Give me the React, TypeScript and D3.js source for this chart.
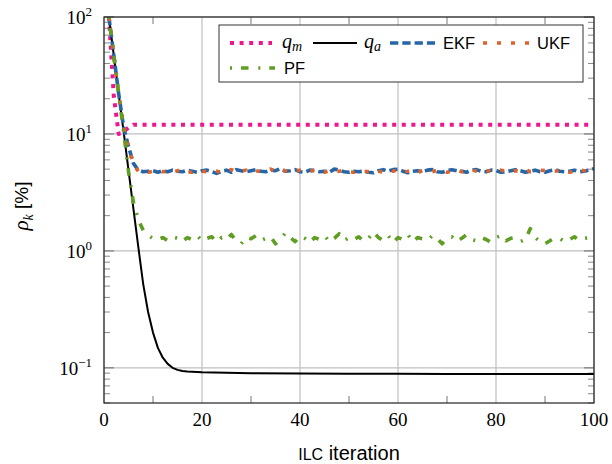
import React from "react";
import * as d3 from "d3";

const width = 612;
const height = 464;
const margin = { top: 17, right: 18, bottom: 61, left: 104 };

// iteration 1..100
const ekf = [
  100, 47, 22, 11.5, 7.8, 5.6, 4.9, 4.75, 4.8, 4.85,
  4.7, 4.85, 4.75, 4.9, 4.8, 4.75, 4.9, 4.8, 4.7, 4.85,
  4.9, 4.75, 4.6, 4.8, 4.9, 4.7, 4.95, 4.85, 4.75, 4.85,
  4.95, 4.8, 4.75, 4.9, 4.85, 5.05, 4.8, 4.85, 4.95, 4.75,
  4.7, 4.9, 4.85, 4.75, 4.8, 4.7, 5.0, 4.9, 4.75, 4.7,
  4.8, 4.75, 4.8, 4.7, 4.65, 4.85, 4.95, 4.8, 4.95, 5.0,
  4.8, 4.65, 4.8, 4.85, 4.75, 4.9, 4.95, 4.75, 4.7, 4.85,
  4.95, 4.85, 4.8, 4.7, 4.9, 4.95, 4.8, 4.75, 4.9, 4.85,
  4.7, 4.75, 4.85, 4.95, 4.85, 4.7, 4.8, 4.9, 4.75, 4.7,
  4.85, 4.95, 4.8, 4.75, 4.8, 4.9, 4.75, 4.8, 4.9, 5.05,
];

const ukf = [
  100, 47, 22, 11.5, 7.6, 5.5, 4.8, 4.85, 4.7, 4.8,
  4.9, 4.75, 4.8, 4.7, 4.85, 4.95, 4.75, 4.7, 4.85, 4.8,
  4.75, 4.9, 4.8, 4.7, 4.85, 4.95, 4.75, 4.8, 4.9, 4.7,
  4.85, 4.75, 4.9, 5.0, 4.8, 4.75, 4.85, 4.7, 4.8, 4.9,
  4.85, 4.75, 4.95, 4.8, 4.7, 4.85, 4.75, 4.8, 4.9, 4.75,
  4.7, 4.85, 4.8, 4.75, 4.9, 4.8, 4.7, 4.85, 4.8, 4.95,
  4.75, 4.8, 4.9, 4.7, 4.85, 4.8, 4.75, 4.9, 4.85, 4.7,
  4.8, 4.9, 4.75, 4.85, 4.95, 4.8, 4.7, 4.85, 4.8, 4.75,
  4.9, 4.8, 4.7, 4.85, 4.8, 4.95, 4.75, 4.8, 4.9, 4.85,
  4.75, 4.8, 4.9, 4.85, 4.7, 4.8, 4.95, 4.85, 4.75, 4.9,
];

const pf = [
  100, 47, 22, 10.5, 4.8, 2.6, 1.85, 1.5, 1.35, 1.28,
  1.25, 1.3, 1.22, 1.32, 1.28, 1.2, 1.3, 1.25, 1.35, 1.22,
  1.28, 1.32, 1.18, 1.3, 1.25, 1.38, 1.2, 1.15, 1.3, 1.27,
  1.35, 1.22, 1.28, 1.32, 1.15, 1.25, 1.42, 1.3, 1.2, 1.35,
  1.28, 1.18, 1.3, 1.25, 1.35, 1.2, 1.28, 1.4, 1.22, 1.3,
  1.25, 1.32, 1.2, 1.28, 1.45, 1.3, 1.22, 1.35, 1.18, 1.3,
  1.25, 1.38, 1.2, 1.3, 1.27, 1.22, 1.35, 1.28, 1.15, 1.3,
  1.32, 1.2, 1.28, 1.38, 1.25, 1.22, 1.3, 1.25, 1.18, 1.3,
  1.35, 1.22, 1.28, 1.3, 1.2, 1.25, 1.55, 1.3, 1.2, 1.15,
  1.22, 1.3, 1.28, 1.2, 1.25, 1.32, 1.22, 1.28, 1.3, 1.38,
];

// [iteration, value]
const qm = [[1, 100], [2, 21], [3, 10], [4, 10.5], [5, 11.3], [6, 12], [100, 12]];
const qa = [
  [1, 100], [2, 47], [3, 22], [4, 10.5], [5, 4.9], [6, 2.3], [7, 1.08], [8, 0.52],
  [9, 0.3], [10, 0.2], [11, 0.148], [12, 0.122], [13, 0.108], [14, 0.1], [15, 0.096],
  [16, 0.094], [17, 0.093], [18, 0.0925], [19, 0.092], [20, 0.0915], [25, 0.0905],
  [30, 0.09], [40, 0.0895], [50, 0.089], [60, 0.0888], [70, 0.0887], [80, 0.0886],
  [90, 0.0885], [100, 0.0885],
];

const xTicks = [0, 20, 40, 60, 80, 100];
const xMinor = [10, 30, 50, 70, 90];
const yExponents = [-1, 0, 1, 2];

const serif = "'Liberation Serif', serif";
const sans = "'Liberation Sans', sans-serif";

const colors = {
  qm: "#ee1690",
  qa: "#000000",
  ekf: "#2566a6",
  ukf: "#e0622a",
  pf: "#5f9e22",
};

const styles = {
  qm: { stroke: colors.qm, width: 4, dash: "4,5.6" },
  qa: { stroke: colors.qa, width: 2, dash: "none" },
  ekf: { stroke: colors.ekf, width: 3.6, dash: "8.3,4" },
  ukf: { stroke: colors.ukf, width: 3.6, dash: "4,10" },
  pf: { stroke: colors.pf, width: 3.6, dash: "2,9,7.5,9.8" },
};

export default function App() {
  const x = d3
    .scaleLinear()
    .domain([0, 100])
    .range([margin.left, width - margin.right]);
  const y = d3
    .scaleLog()
    .domain([0.05, 100])
    .range([height - margin.bottom, margin.top]);

  const line = d3
    .line<number[]>()
    .x(d => x(d[0]))
    .y(d => y(d[1]));

  const toPairs = (arr: number[]) => arr.map((v, i) => [i + 1, v]);

  const yMinor: number[] = [];
  for (let e = -2; e <= 1; e++) {
    for (let m = 2; m <= 9; m++) {
      const v = m * Math.pow(10, e);
      if (v >= 0.05 && v <= 100) yMinor.push(v);
    }
  }

  const x0 = margin.left;
  const x1 = width - margin.right;
  const y0 = height - margin.bottom;
  const y1 = margin.top;

  const series = [
    { key: "qm", d: qm },
    { key: "qa", d: qa },
    { key: "ekf", d: toPairs(ekf) },
    { key: "ukf", d: toPairs(ukf) },
    { key: "pf", d: toPairs(pf) },
  ];

  const legendX = 219;
  const legendY = 25;
  const row1 = 43;
  const row2 = 68;
  const legendLine = (key: string, lx: number, ly: number, len: number) => {
    const s = styles[key];
    return (
      <line
        x1={lx}
        x2={lx + len}
        y1={ly}
        y2={ly}
        stroke={s.stroke}
        strokeWidth={s.width}
        strokeDasharray={s.dash}
      />
    );
  };

  return (
    <svg
      width={width}
      height={height}
      style={{ position: "absolute", left: 0, top: 0, background: "#fff" }}
    >
      <defs>
        <clipPath id="plotClip">
          <rect x={x0} y={y1} width={x1 - x0} height={y0 - y1} />
        </clipPath>
      </defs>

      {/* grid */}
      {xTicks.map(t => (
        <line key={"gx" + t} x1={x(t)} x2={x(t)} y1={y1} y2={y0} stroke="#bfbfbf" strokeWidth={1.2} />
      ))}
      {yExponents.map(e => (
        <line
          key={"gy" + e}
          x1={x0}
          x2={x1}
          y1={y(Math.pow(10, e))}
          y2={y(Math.pow(10, e))}
          stroke="#bfbfbf"
          strokeWidth={1.2}
        />
      ))}

      {/* minor ticks */}
      {xMinor.map(t => (
        <g key={"mx" + t}>
          <line x1={x(t)} x2={x(t)} y1={y0} y2={y0 - 7} stroke="#777" strokeWidth={1} />
          <line x1={x(t)} x2={x(t)} y1={y1} y2={y1 + 7} stroke="#777" strokeWidth={1} />
        </g>
      ))}
      {yMinor.map(v => (
        <g key={"my" + v}>
          <line x1={x0} x2={x0 + 6} y1={y(v)} y2={y(v)} stroke="#888" strokeWidth={1} />
          <line x1={x1} x2={x1 - 6} y1={y(v)} y2={y(v)} stroke="#888" strokeWidth={1} />
        </g>
      ))}
      {yExponents.map(e => (
        <g key={"My" + e}>
          <line x1={x0} x2={x0 + 10} y1={y(Math.pow(10, e))} y2={y(Math.pow(10, e))} stroke="#888" strokeWidth={1.4} />
          <line x1={x1} x2={x1 - 10} y1={y(Math.pow(10, e))} y2={y(Math.pow(10, e))} stroke="#888" strokeWidth={1.4} />
        </g>
      ))}

      {/* series */}
      <g clipPath="url(#plotClip)">
        {series.map(s => {
          const st = styles[s.key];
          return (
            <path
              key={s.key}
              d={line(s.d as number[][]) || ""}
              fill="none"
              stroke={st.stroke}
              strokeWidth={st.width}
              strokeDasharray={st.dash}
              strokeLinejoin="round"
            />
          );
        })}
      </g>

      {/* frame */}
      <rect x={x0} y={y1} width={x1 - x0} height={y0 - y1} fill="none" stroke="#222" strokeWidth={1.2} />

      {/* x tick labels */}
      {xTicks.map(t => (
        <text key={"tx" + t} x={x(t)} y={y0 + 23} textAnchor="middle" fontFamily={serif} fontSize={19}>
          {t}
        </text>
      ))}

      {/* y tick labels */}
      {yExponents.map(e => (
        <text
          key={"ty" + e}
          x={x0 - 12}
          y={y(Math.pow(10, e)) + 7}
          textAnchor="end"
          fontFamily={serif}
          fontSize={19}
        >
          10
          <tspan dy={-8} fontSize={13}>
            {e < 0 ? "\u2212" + Math.abs(e) : String(e)}
          </tspan>
        </text>
      ))}

      {/* axis labels */}
      <text x={349} y={460} textAnchor="middle" fontFamily={sans} fontSize={20}>
        <tspan fontSize={16}>ILC</tspan> iteration
      </text>
      <text transform="translate(28,206) rotate(-90)" textAnchor="middle" fontSize={21}>
        <tspan fontFamily={serif} fontStyle="italic">ρ</tspan>
        <tspan fontFamily={serif} fontStyle="italic" fontSize={14} dy={5}>k</tspan>
        <tspan fontFamily={sans} fontSize={19} dy={-5}> [%]</tspan>
      </text>

      {/* legend */}
      <rect x={legendX} y={legendY} width={364} height={57} fill="#fff" stroke="#333" strokeWidth={1} />
      {legendLine("qm", 230, row1, 42)}
      <text x={282} y={row1 + 5} fontFamily={serif} fontStyle="italic" fontSize={20}>
        q<tspan fontSize={14} dy={3}>m</tspan>
      </text>
      {legendLine("qa", 313, row1, 44)}
      <text x={364} y={row1 + 5} fontFamily={serif} fontStyle="italic" fontSize={20}>
        q<tspan fontSize={14} dy={3}>a</tspan>
      </text>
      {legendLine("ekf", 390, row1, 45)}
      <text x={443} y={row1 + 6} fontFamily={sans} fontSize={16.5}>EKF</text>
      {legendLine("ukf", 483, row1, 47)}
      <text x={537} y={row1 + 6} fontFamily={sans} fontSize={16.5}>UKF</text>
      {legendLine("pf", 230, row2, 45)}
      <text x={284} y={row2 + 6} fontFamily={sans} fontSize={16.5}>PF</text>
    </svg>
  );
}
